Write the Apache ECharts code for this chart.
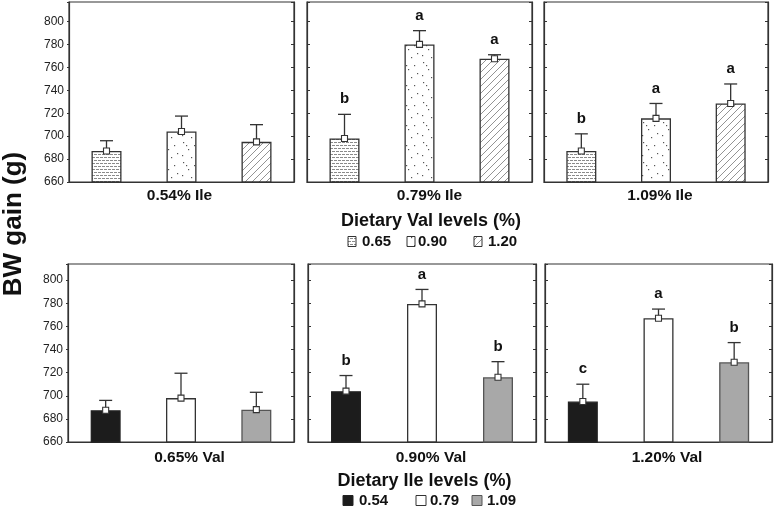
<!DOCTYPE html>
<html>
<head>
<meta charset="utf-8">
<script src="https://cdn.jsdelivr.net/npm/echarts/dist/echarts.min.js"></script>
<style>
html,body{margin:0;padding:0;background:#fff;}
#chart{width:774px;height:513px;}
</style>
</head>
<body>
<div id="chart"></div>
<script>
// ---------- DATA ----------
// Top row: panels by Ile level, bars by Val level
var topPanelTitles = ['0.54% Ile', '0.79% Ile', '1.09% Ile'];
var valLevels = ['0.65', '0.90', '1.20'];
var topMeans = [
  [687, 704, 695],
  [698, 780, 767.5],
  [687, 715.5, 728.5]
];
var topUpper = [
  [696, 717.5, 710],
  [719, 792, 771],
  [702, 728.5, 745.5]
];
var topLetters = [
  ['', '', ''],
  ['b', 'a', 'a'],
  ['b', 'a', 'a']
];
// Bottom row: panels by Val level, bars by Ile level
var bottomPanelTitles = ['0.65% Val', '0.90% Val', '1.20% Val'];
var ileLevels = ['0.54', '0.79', '1.09'];
var bottomMeans = [
  [687.5, 698, 688],
  [704, 779.5, 716],
  [695, 767, 729]
];
var bottomUpper = [
  [696, 719.5, 703],
  [717.5, 792, 729.5],
  [710, 775, 746]
];
var bottomLetters = [
  ['', '', ''],
  ['b', 'a', 'b'],
  ['c', 'a', 'b']
];
var yTitle = 'BW gain (g)';
var topLegendTitle = 'Dietary Val levels (%)';
var bottomLegendTitle = 'Dietary Ile levels (%)';
var yMin = 660, yInterval = 20;

// ---------- PATTERNS ----------
function makeCanvas(w, h, draw) {
  var c = document.createElement('canvas');
  c.width = w; c.height = h;
  var ctx = c.getContext('2d');
  ctx.fillStyle = '#fff';
  ctx.fillRect(0, 0, w, h);
  draw(ctx);
  return c;
}
var dashCanvas = makeCanvas(8, 6, function (ctx) {
  ctx.fillStyle = '#8a8a8a';
  ctx.fillRect(0, 1, 3, 1); ctx.fillRect(4, 1, 3, 1);
  ctx.fillRect(2, 4, 3, 1); ctx.fillRect(6, 4, 2, 1); ctx.fillRect(0, 4, 1, 1);
});
var dotCanvas = makeCanvas(20, 20, function (ctx) {
  ctx.fillStyle = '#555';
  var pts = [[3, 2], [14, 5], [8, 9], [17, 13], [2, 15], [11, 17], [6, 5]];
  pts.forEach(function (p) { ctx.fillRect(p[0], p[1], 1.2, 1.2); });
});
var diagCanvas = makeCanvas(7, 7, function (ctx) {
  ctx.strokeStyle = '#777';
  ctx.lineWidth = 0.8;
  [-7, 0, 7].forEach(function (k) {
    ctx.beginPath(); ctx.moveTo(k, 7); ctx.lineTo(k + 7, 0); ctx.stroke();
  });
});
function pat(c) { return { image: c, repeat: 'repeat' }; }
var topFills = [pat(dashCanvas), pat(dotCanvas), pat(diagCanvas)];
var bottomFills = ['#1c1c1c', '#ffffff', '#a8a8a8'];
var bottomBorders = ['#222', '#333', '#555'];

// ---------- LAYOUT ----------
var FONT = '"Liberation Sans", Arial, sans-serif';
var gridsLayout = [
  { left: 69, width: 225, top: 2, height: 180, max: 817 },
  { left: 307, width: 225, top: 2, height: 180, max: 817 },
  { left: 544, width: 224, top: 2, height: 180, max: 817 },
  { left: 68, width: 226, top: 264, height: 178, max: 814 },
  { left: 308, width: 228, top: 264, height: 178, max: 814 },
  { left: 545, width: 227, top: 264, height: 178, max: 814 }
];

var grids = [], xAxes = [], yAxes = [], series = [];
gridsLayout.forEach(function (g, i) {
  var isTop = i < 3;
  var p = i % 3;
  var cats = isTop ? valLevels : ileLevels;
  var means = isTop ? topMeans[p] : bottomMeans[p];
  var uppers = isTop ? topUpper[p] : bottomUpper[p];
  var letters = isTop ? topLetters[p] : bottomLetters[p];
  grids.push({ left: g.left, top: g.top, width: g.width, height: g.height,
    show: true, borderColor: '#333', borderWidth: 1.2, backgroundColor: '#fff' });
  xAxes.push({ type: 'category', gridIndex: i, data: cats,
    axisLine: { lineStyle: { color: '#333', width: 1.2 } },
    axisTick: { inside: true, alignWithLabel: true, length: 3, lineStyle: { color: '#333' } },
    axisLabel: { show: false }, splitLine: { show: false } });
  var leftMost = (p === 0);
  var baseY = { type: 'value', gridIndex: i, min: yMin, max: g.max, interval: yInterval,
    splitLine: { show: false },
    axisLine: { show: true, lineStyle: { color: '#333', width: 1.2 } } };
  yAxes.push(Object.assign({}, baseY, {
    position: 'left',
    axisTick: { show: true, inside: !leftMost, length: leftMost ? 2 : 3, lineStyle: { color: '#333' } },
    axisLabel: { show: leftMost, color: '#222', fontSize: 12, fontFamily: FONT, margin: 5,
      formatter: function (v) { return v % 20 === 0 ? String(v) : ''; } }
  }));
  yAxes.push(Object.assign({}, baseY, {
    position: 'right',
    axisTick: { show: true, inside: true, length: 3, lineStyle: { color: '#333' } },
    axisLabel: { show: false }
  }));
  series.push({
    type: 'bar', xAxisIndex: i, yAxisIndex: 2 * i, barWidth: 30, silent: true,
    data: means.map(function (v, j) {
      return { value: v, itemStyle: {
        color: isTop ? topFills[j] : bottomFills[j],
        borderColor: isTop ? '#333' : bottomBorders[j], borderWidth: 1.3 } };
    }),
    z: 2
  });
  series.push({
    type: 'custom', xAxisIndex: i, yAxisIndex: 2 * i, silent: true, z: 5, clip: false,
    data: means.map(function (v, j) { return [j, v, uppers[j]]; }),
    encode: { x: 0, y: [1, 2] },
    renderItem: function (params, api) {
      var j = api.value(0);
      var pm = api.coord([j, api.value(1)]);
      var pu = api.coord([j, api.value(2)]);
      var children = [
        { type: 'line', shape: { x1: pm[0], y1: pm[1], x2: pu[0], y2: pu[1] },
          style: { stroke: '#333', lineWidth: 1.3 } },
        { type: 'line', shape: { x1: pu[0] - 6.5, y1: pu[1], x2: pu[0] + 6.5, y2: pu[1] },
          style: { stroke: '#333', lineWidth: 1.3 } },
        { type: 'rect', shape: { x: pm[0] - 3, y: pm[1] - 3, width: 6, height: 6 },
          style: { fill: '#fff', stroke: '#333', lineWidth: 1.1 } }
      ];
      var L = letters[params.dataIndex];
      if (L) {
        children.push({ type: 'text', x: pu[0], y: pu[1] - 15,
          style: { text: L, font: 'bold 15px ' + FONT, fill: '#111',
            textAlign: 'center', textVerticalAlign: 'middle' } });
      }
      return { type: 'group', children: children };
    }
  });
});

// ---------- TEXT / LEGENDS ----------
var graphics = [];
function txt(x, y, s, size, extra) {
  var o = { type: 'text', x: x, y: y, silent: true,
    style: { text: s, font: 'bold ' + size + 'px ' + FONT, fill: '#111',
      textAlign: 'center', textVerticalAlign: 'middle' } };
  if (extra) Object.assign(o, extra);
  return o;
}
graphics.push(txt(14, 224, yTitle, 26, { rotation: Math.PI / 2 }));
var topTitleX = [179.5, 429.5, 660];
var bottomTitleX = [189.5, 431, 667];
topPanelTitles.forEach(function (t, k) { graphics.push(txt(topTitleX[k], 196, t, 15.5)); });
bottomPanelTitles.forEach(function (t, k) { graphics.push(txt(bottomTitleX[k], 458, t, 15.5)); });
graphics.push(txt(431, 221, topLegendTitle, 18));
graphics.push(txt(424.5, 481.5, bottomLegendTitle, 18));

var topIconX = [348, 407, 474], topTextX = [362, 418, 488];
valLevels.forEach(function (lv, k) {
  graphics.push({ type: 'rect', silent: true, shape: { x: topIconX[k], y: 236.5, width: 8, height: 10 },
    style: { fill: topFills[k], stroke: '#333', lineWidth: 1 } });
  graphics.push(txt(topTextX[k], 241.5, lv, 15, { style: { text: lv, font: 'bold 15px ' + FONT, fill: '#111', textAlign: 'left', textVerticalAlign: 'middle' } }));
});
var botIconX = [343, 416, 472], botTextX = [359, 430, 487];
ileLevels.forEach(function (lv, k) {
  graphics.push({ type: 'rect', silent: true, shape: { x: botIconX[k], y: 495.5, width: 10, height: 10 },
    style: { fill: bottomFills[k], stroke: bottomBorders[k], lineWidth: 1 } });
  graphics.push(txt(botTextX[k], 500.5, lv, 15, { style: { text: lv, font: 'bold 15px ' + FONT, fill: '#111', textAlign: 'left', textVerticalAlign: 'middle' } }));
});

var chart = echarts.init(document.getElementById('chart'), null, { renderer: 'canvas' });
chart.setOption({
  animation: false,
  backgroundColor: '#fff',
  grid: grids,
  xAxis: xAxes,
  yAxis: yAxes,
  series: series,
  graphic: graphics
});
</script>
</body>
</html>
